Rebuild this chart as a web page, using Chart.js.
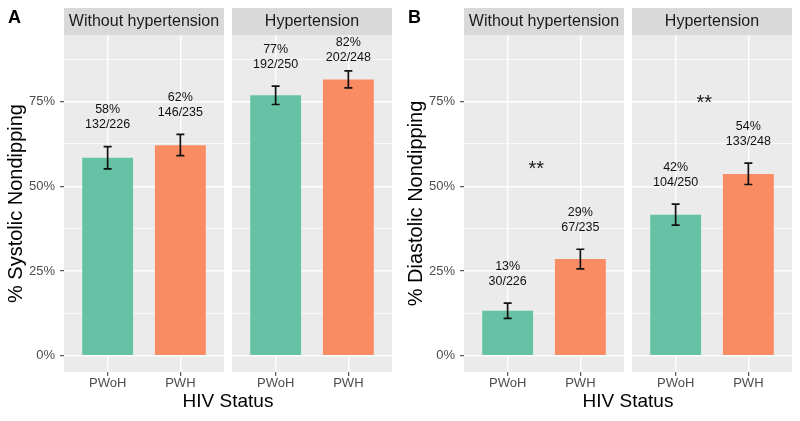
<!DOCTYPE html>
<html>
<head>
<meta charset="utf-8">
<script src="https://cdn.jsdelivr.net/npm/chart.js@4.4.1/dist/chart.umd.min.js"></script>
<style>
  body { margin: 0; background: #fff; }
  .panel { position: absolute; top: 0; width: 400px; height: 421px; }
</style>
</head>
<body>
<div class="panel" style="left:0"><canvas id="systolic" width="400" height="421"></canvas></div>
<div class="panel" style="left:400px"><canvas id="diastolic" width="400" height="421"></canvas></div>
<script>
'use strict';

/* Data */

var hivStatus = ['PWoH', 'PWH'];
var facetNames = ['Without hypertension', 'Hypertension'];
var yTicks = [0, 25, 50, 75];
var yMinorTicks = [12.5, 37.5, 62.5, 87.5];

// order: without HT (PWoH, PWH), HT (PWoH, PWH)
var systolicPct = [58.4, 62.1, 76.8, 81.5];
var systolicLow = [55.1, 59.0, 74.1, 79.0];
var systolicHigh = [61.7, 65.3, 79.5, 84.0];
var systolicPctText = ['58%', '62%', '77%', '82%'];
var systolicCounts = ['132/226', '146/235', '192/250', '202/248'];
var systolicStars = [null, null];

var diastolicPct = [13.3, 28.5, 41.6, 53.6];
var diastolicLow = [11.0, 25.6, 38.5, 50.5];
var diastolicHigh = [15.5, 31.4, 44.7, 56.8];
var diastolicPctText = ['13%', '29%', '42%', '54%'];
var diastolicCounts = ['30/226', '67/235', '104/250', '133/248'];
var diastolicStars = [56, 75.5];   // height of "**" in each facet

var statusColors = ['#66c2a5', '#fa8c63'];

/* Layout helpers */

var FONT = '"Liberation Sans", Arial, Helvetica, sans-serif';
Chart.defaults.font.family = FONT;

var expand = 0.6;                 // ggplot discrete expansion
var facetGap = 0.11;              // gap between facets, in category units
var facetStep = 2 * expand + 1 + facetGap;

function xPos(i) {
  return Math.floor(i / 2) * facetStep + (i % 2);
}

var facetPlugin = {
  id: 'facets',
  beforeDraw: function(chart, args, opts) {
    var ctx = chart.ctx;
    var area = chart.chartArea;
    var x = chart.scales.x;
    ctx.save();
    facetNames.forEach(function(name, f) {
      var left = x.getPixelForValue(f * facetStep - expand);
      var right = x.getPixelForValue(f * facetStep + 1 + expand);
      ctx.fillStyle = '#ebebeb';
      ctx.fillRect(left, area.top, right - left, area.bottom - area.top);
      ctx.fillStyle = '#d9d9d9';
      ctx.fillRect(left, 8, right - left, area.top - 8);
      ctx.fillStyle = '#1a1a1a';
      ctx.font = '16px ' + FONT;
      ctx.textAlign = 'center';
      ctx.textBaseline = 'middle';
      ctx.fillText(name, (left + right) / 2, (8 + area.top) / 2 + 0.5);
    });
    ctx.fillStyle = '#000';
    ctx.font = 'bold 18px ' + FONT;
    ctx.textAlign = 'left';
    ctx.textBaseline = 'alphabetic';
    ctx.fillText(opts.letter, 8, 22.5);
    ctx.restore();
  },
  afterDatasetsDraw: function(chart, args, opts) {
    var ctx = chart.ctx;
    var area = chart.chartArea;
    var x = chart.scales.x;
    var y = chart.scales.y;
    var points = chart.data.datasets[0].data;
    ctx.save();
    points.forEach(function(pt, i) {
      var px = x.getPixelForValue(pt.x);
      var cap = x.getPixelForValue(pt.x + 0.055) - px;
      var yl = y.getPixelForValue(opts.low[i]);
      var yh = y.getPixelForValue(opts.high[i]);
      ctx.strokeStyle = '#111';
      ctx.lineWidth = 1.7;
      ctx.beginPath();
      ctx.moveTo(px, yl); ctx.lineTo(px, yh);
      ctx.moveTo(px - cap, yl); ctx.lineTo(px + cap, yl);
      ctx.moveTo(px - cap, yh); ctx.lineTo(px + cap, yh);
      ctx.stroke();

      var line2 = yh - 21.5;
      var line1 = line2 - 15;
      if (line1 < area.top + 8) {
        line1 = area.top + 8;
        line2 = line1 + 15;
      }
      ctx.fillStyle = '#111';
      ctx.font = '12.5px ' + FONT;
      ctx.textAlign = 'center';
      ctx.textBaseline = 'middle';
      ctx.fillText(opts.pctText[i], px, line1);
      ctx.fillText(opts.counts[i], px, line2);
    });
    opts.stars.forEach(function(v, f) {
      if (v === null) return;
      ctx.fillStyle = '#1a1a1a';
      ctx.font = '20px ' + FONT;
      ctx.textAlign = 'right';
      ctx.textBaseline = 'middle';
      ctx.fillText('**', x.getPixelForValue(f * facetStep + 0.5), y.getPixelForValue(v) + 4);
    });
    ctx.restore();
  }
};

function makeChart(id, letter, yTitle, pct, low, high, pctText, counts, stars) {
  var points = pct.map(function(v, i) { return {x: xPos(i), y: v}; });
  var xs = points.map(function(p) { return p.x; });
  var allY = yTicks.concat(yMinorTicks).sort(function(a, b) { return a - b; });

  var isMajor = function(c) { return yTicks.indexOf(c.tick.value) >= 0; };

  var ctx = document.getElementById(id).getContext('2d');
  return new Chart(ctx, {
    type: 'bar',
    data: {
      datasets: [{
        data: points,
        backgroundColor: points.map(function(p, i) { return statusColors[i % 2]; }),
        borderWidth: 0,
        categoryPercentage: 0.7,
        barPercentage: 1
      }]
    },
    plugins: [facetPlugin],
    options: {
      responsive: false,
      animation: false,
      layout: { padding: { top: 35, right: 8, left: 0, bottom: 0 } },
      plugins: {
        legend: { display: false },
        tooltip: { enabled: false },
        facets: { letter: letter, low: low, high: high, pctText: pctText, counts: counts, stars: stars }
      },
      scales: {
        x: {
          type: 'linear',
          min: -expand,
          max: facetStep + 1 + expand,
          offset: false,
          afterBuildTicks: function(s) { s.ticks = xs.map(function(v) { return {value: v}; }); },
          afterFit: function(s) { s.height = 49; },
          grid: { color: '#fff', lineWidth: 1.4, offset: false, tickLength: 4, tickColor: '#333', tickWidth: 1 },
          border: { display: false },
          ticks: {
            callback: function(v, i) { return hivStatus[i % 2]; },
            color: '#4d4d4d', font: { size: 13 }, padding: 0, maxRotation: 0, autoSkip: false
          },
          title: { display: true, text: 'HIV Status', color: '#000', font: { size: 19 }, padding: { top: 0, bottom: 7.6 } }
        },
        y: {
          min: -4.8,
          max: 94.6,
          afterBuildTicks: function(s) { s.ticks = allY.map(function(v) { return {value: v}; }); },
          afterFit: function(s) { s.width = 64; },
          grid: {
            color: '#fff',
            lineWidth: function(c) { return isMajor(c) ? 1.4 : 0.7; },
            tickLength: 4,
            tickColor: function(c) { return isMajor(c) ? '#333' : 'rgba(0,0,0,0)'; },
            tickWidth: 1
          },
          border: { display: false },
          ticks: {
            callback: function(v) { return yTicks.indexOf(v) >= 0 ? v + '%' : ''; },
            color: '#4d4d4d', font: { size: 13 }, padding: 5, autoSkip: false
          },
          title: { display: true, text: yTitle, color: '#000', font: { size: 20 }, padding: { top: 4.5, bottom: 0 } }
        }
      }
    }
  });
}

makeChart('systolic', 'A', '% Systolic Nondipping',
  systolicPct, systolicLow, systolicHigh, systolicPctText, systolicCounts, systolicStars);
makeChart('diastolic', 'B', '% Diastolic Nondipping',
  diastolicPct, diastolicLow, diastolicHigh, diastolicPctText, diastolicCounts, diastolicStars);
</script>
</body>
</html>
